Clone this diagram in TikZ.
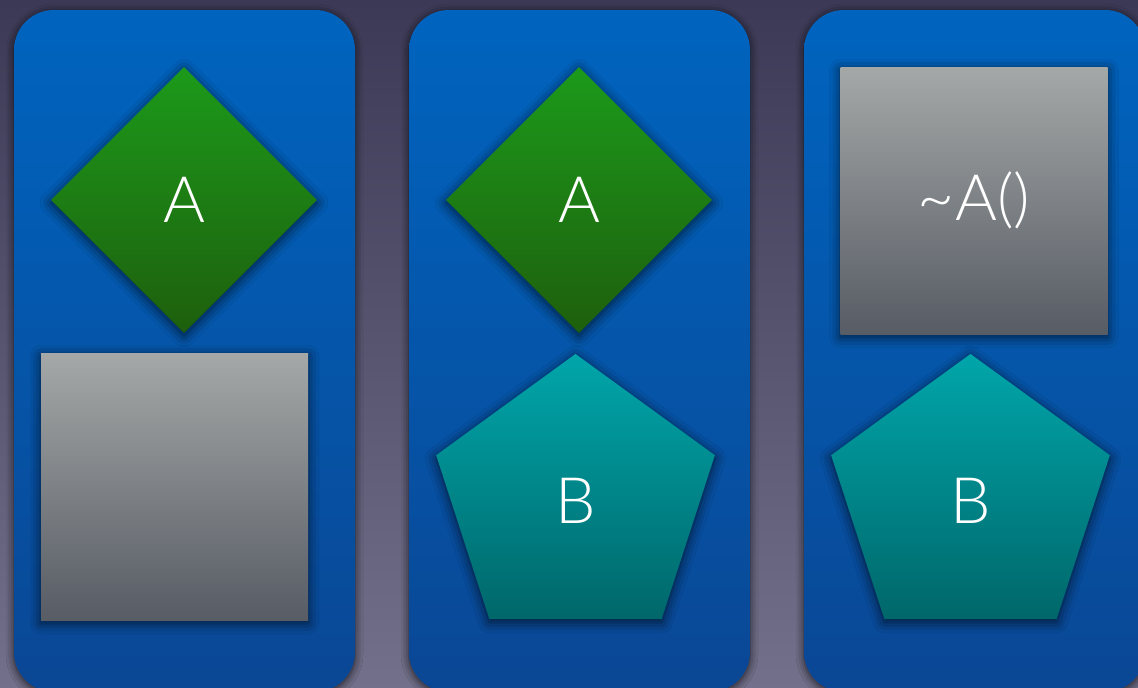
\documentclass[tikz,border=0pt]{standalone}
\usepackage{fontspec}
\setmainfont{Lato Light}
\usetikzlibrary{shapes.geometric,shadows.blur,positioning}
\definecolor{bgtop}{HTML}{3B3955}
\definecolor{bgbot}{HTML}{72708A}
\definecolor{cardtop}{HTML}{0064BF}
\definecolor{cardbot}{HTML}{0A4795}
\definecolor{grtop}{HTML}{1C9A1A}
\definecolor{grbot}{HTML}{1E5F0D}
\definecolor{gytop}{HTML}{A4A8A7}
\definecolor{gybot}{HTML}{575C65}
\definecolor{tltop}{HTML}{00A6AA}
\definecolor{tlbot}{HTML}{00676A}

\begin{document}
\begin{tikzpicture}[x=1pt,y=-1pt,
  lbl/.style={font=\fontsize{64}{64}\selectfont,text=white},
  card/.style={rounded corners=40pt,top color=cardtop,bottom color=cardbot,
    minimum width=341pt,minimum height=682pt,inner sep=0pt,
    blur shadow={shadow xshift=0pt,shadow yshift=-2pt,shadow blur radius=8pt,
      shadow opacity=75}},
  shp/.style={lbl,inner sep=0pt,
    blur shadow={shadow xshift=0pt,shadow yshift=-3pt,shadow blur radius=11pt,
      shadow opacity=70}},
  dia/.style={shp,diamond,minimum width=266pt,minimum height=266pt,
    top color=grtop,bottom color=grbot},
  box/.style={shp,rectangle,minimum size=267pt,top color=gytop,bottom color=gybot},
  penta/.style={shp,regular polygon,regular polygon sides=5,minimum size=293pt,
    top color=tltop,bottom color=tlbot},
]
\useasboundingbox (0,0) rectangle (1138,688);
\shade[top color=bgtop,bottom color=bgbot] (0,0) rectangle (1138,688);

% three cards
\node[card] (c1) at (184.5,351) {};
\node[card] (c2) at (579.5,351) {};
\node[card] (c3) at (974.5,351) {};

% first card: A and free storage
\node[dia] (a1) at (184,200) {A};
\node[box] (s1) at (174.5,486.5) {};

% second card: A and B
\node[dia] (a2) at (579,200) {A};
\node[penta] (b2) at (575.5,500.5) {B};

% third card: A destroyed, B left
\node[box] (d3) at (974,200.5) {\textasciitilde A()};
\node[penta] (b3) at (970.5,500.5) {B};
\end{tikzpicture}
\end{document}
